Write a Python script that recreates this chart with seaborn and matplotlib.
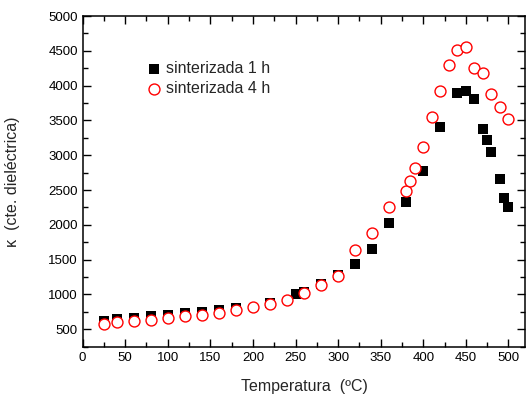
import numpy as np
import pandas as pd
import matplotlib
matplotlib.use("Agg")
import matplotlib.pyplot as plt
import seaborn as sns

# sinterizada 1 h
t_1h = [25, 40, 60, 80, 100, 120, 140, 160, 180, 220, 250, 260, 280, 300, 320,
        340, 360, 380, 400, 420, 440, 450, 460, 470, 475, 480, 490, 495, 500]
k_1h = [615, 644, 662, 690, 700, 730, 748, 777, 806, 884, 1004, 1036, 1150, 1275,
        1445, 1650, 2025, 2330, 2778, 3405, 3898, 3917, 3811, 3371, 3213, 3050,
        2661, 2390, 2260]

# sinterizada 4 h
t_4h = [25, 40, 60, 80, 100, 120, 140, 160, 180, 200, 220, 240, 260, 280, 300,
        320, 340, 360, 380, 385, 390, 400, 410, 420, 430, 440, 450, 460, 470,
        480, 490, 500]
k_4h = [578, 600, 619, 640, 660, 690, 712, 740, 783, 822, 860, 927, 1022, 1133,
        1262, 1636, 1885, 2259, 2489, 2632, 2810, 3121, 3544, 3926, 4291, 4511,
        4554, 4252, 4185, 3884, 3687, 3519]

sns.set_style("ticks")
plt.rcParams['font.family'] = ['Liberation Sans', 'DejaVu Sans']

df1 = pd.DataFrame({'T': t_1h, 'k': k_1h})
df4 = pd.DataFrame({'T': t_4h, 'k': k_4h})

fig = plt.figure(figsize=(5.26, 3.96), dpi=100)
ax = fig.add_axes([0.157, 0.1245, 0.842, 0.835])

sns.scatterplot(data=df1, x='T', y='k', marker='s', s=42, color='black',
                edgecolor='black', linewidth=0, label='sinterizada 1 h', ax=ax, zorder=2)
sns.scatterplot(data=df4, x='T', y='k', marker='o', s=62, facecolor='white',
                edgecolor='red', linewidth=1.0, label='sinterizada 4 h', ax=ax, zorder=3)

ax.set_xlim(0, 520)
ax.set_ylim(250, 5000)
ax.set_xticks(np.arange(0, 501, 50))
ax.set_yticks(np.arange(500, 5001, 500))
ax.set_xticks(np.arange(25, 520, 50), minor=True)
ax.set_yticks(np.arange(250, 5000, 500), minor=True)
ax.tick_params(which='both', direction='in', top=True, right=True, labelsize=9.5,
               width=1, color='black', labelcolor='black')
ax.tick_params(which='major', length=6)
ax.tick_params(which='minor', length=3.5)
for sp in ax.spines.values():
    sp.set_linewidth(1.1)
    sp.set_color('black')

ax.set_xlabel('Temperatura  (ºC)', fontsize=11.5, labelpad=11)
ax.set_ylabel('κ  (cte. dieléctrica)', fontsize=11.5, labelpad=20)

ax.legend(loc='upper left', bbox_to_anchor=(0.128, 0.889), frameon=False,
          fontsize=11.5, handlelength=0.8, handletextpad=0.35, labelspacing=0.35,
          borderpad=0)

fig.savefig('out.png', dpi=100)
